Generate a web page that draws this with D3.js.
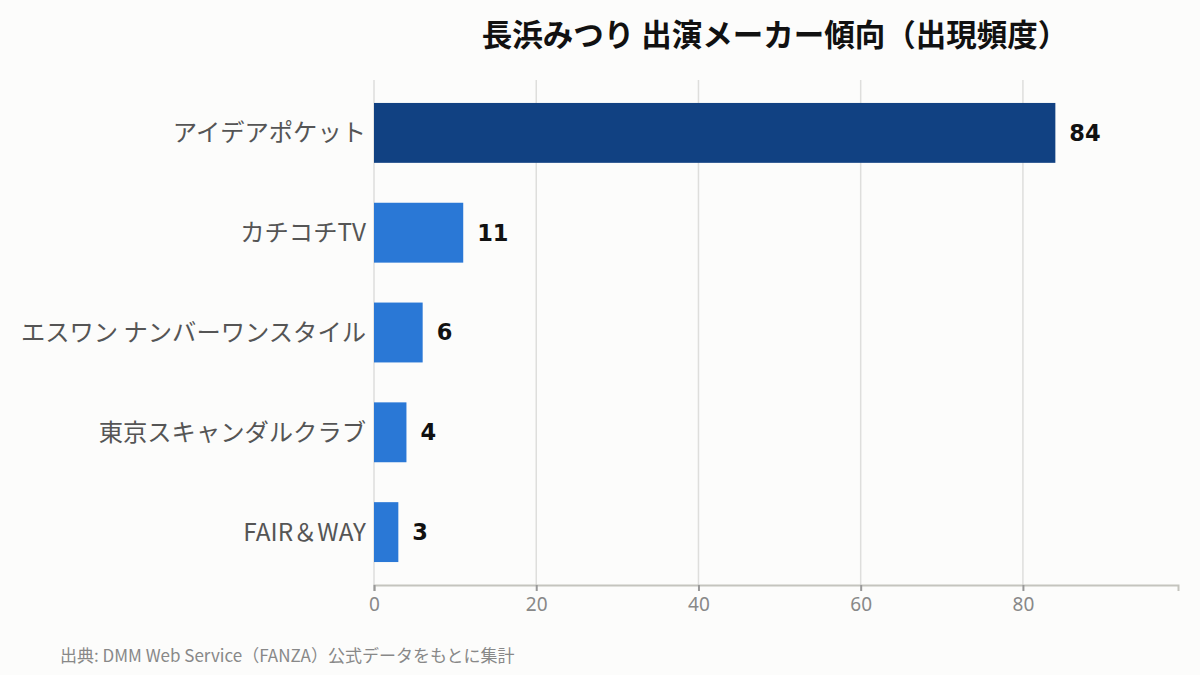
<!DOCTYPE html>
<html>
<head>
<meta charset="utf-8">
<script src="https://cdn.jsdelivr.net/npm/d3@7"></script>
<style>
  body { margin: 0; background: #fcfcfb; }
  svg { display: block; }
</style>
</head>
<body>
<script>
// データ
var makers = ["アイデアポケット", "カチコチTV", "エスワン ナンバーワンスタイル", "東京スキャンダルクラブ", "FAIR＆WAY"];
var counts = [84, 11, 6, 4, 3];
var ticks = [0, 20, 40, 60, 80];

var W = 1200, H = 675;
var margin = {top: 80, right: 22, bottom: 90, left: 374},
    width = W - margin.left - margin.right,
    height = H - margin.top - margin.bottom;

var jp = "'Noto Sans CJK JP', 'Noto Sans', sans-serif";

var svg = d3.select("body").append("svg")
    .attr("width", W)
    .attr("height", H)
    .style("background", "#fcfcfb");

svg.append("text")
    .attr("x", margin.left + width / 2 - 1)
    .attr("y", 46)
    .attr("text-anchor", "middle")
    .style("font-family", jp)
    .style("font-weight", "bold")
    .style("font-size", "30.5px")
    .style("fill", "#111")
    .text("長浜みつり 出演メーカー傾向（出現頻度）");

var g = svg.append("g")
    .attr("transform", `translate(${margin.left},${margin.top})`);

var x = d3.scaleLinear()
    .domain([0, d3.max(counts) * 1.18])
    .range([0, width]);

var y = d3.scaleBand()
    .domain(makers)
    .range([0, height])
    .paddingInner(0.4)
    .paddingOuter(0.23);

// grid
g.selectAll(".grid")
    .data(ticks)
    .enter().append("line")
    .attr("x1", d => x(d)).attr("x2", d => x(d))
    .attr("y1", 0).attr("y2", height)
    .attr("stroke", "#dededc")
    .attr("stroke-width", 1.5);

g.selectAll(".bar")
    .data(counts)
    .enter().append("rect")
    .attr("x", 0)
    .attr("y", (d, i) => y(makers[i]))
    .attr("width", d => x(d))
    .attr("height", y.bandwidth())
    .attr("fill", (d, i) => i === 0 ? "#114182" : "#2a78d6");

g.selectAll(".val")
    .data(counts)
    .enter().append("text")
    .attr("x", d => x(d) + 14)
    .attr("y", (d, i) => y(makers[i]) + y.bandwidth() / 2)
    .attr("dy", "0.35em")
    .style("font-family", "'DejaVu Sans', sans-serif")
    .style("font-weight", "bold")
    .style("font-size", "22.5px")
    .style("fill", "#111")
    .text(d => d);

g.selectAll(".cat")
    .data(makers)
    .enter().append("text")
    .attr("x", -8)
    .attr("y", d => y(d) + y.bandwidth() / 2)
    .attr("dy", "0.35em")
    .attr("text-anchor", "end")
    .style("font-family", jp)
    .style("font-size", "24.3px")
    .style("fill", "#555")
    .text(d => d);

// x axis
var xAxis = g.append("g")
    .attr("transform", `translate(0,${height})`)
    .call(d3.axisBottom(x).tickValues(ticks).tickSize(6).tickPadding(7));
xAxis.select(".domain").attr("stroke", "#c4c4be").attr("stroke-width", 2);
xAxis.selectAll(".tick line").attr("stroke", "#999").attr("stroke-width", 2);
xAxis.selectAll(".tick text")
    .style("font-family", "'Noto Sans', sans-serif")
    .style("font-size", "19px")
    .style("fill", "#888");

svg.append("text")
    .attr("x", 60)
    .attr("y", 662)
    .style("font-family", jp)
    .style("font-size", "17px")
    .style("fill", "#888")
    .text("出典: DMM Web Service（FANZA）公式データをもとに集計");
</script>
</body>
</html>
